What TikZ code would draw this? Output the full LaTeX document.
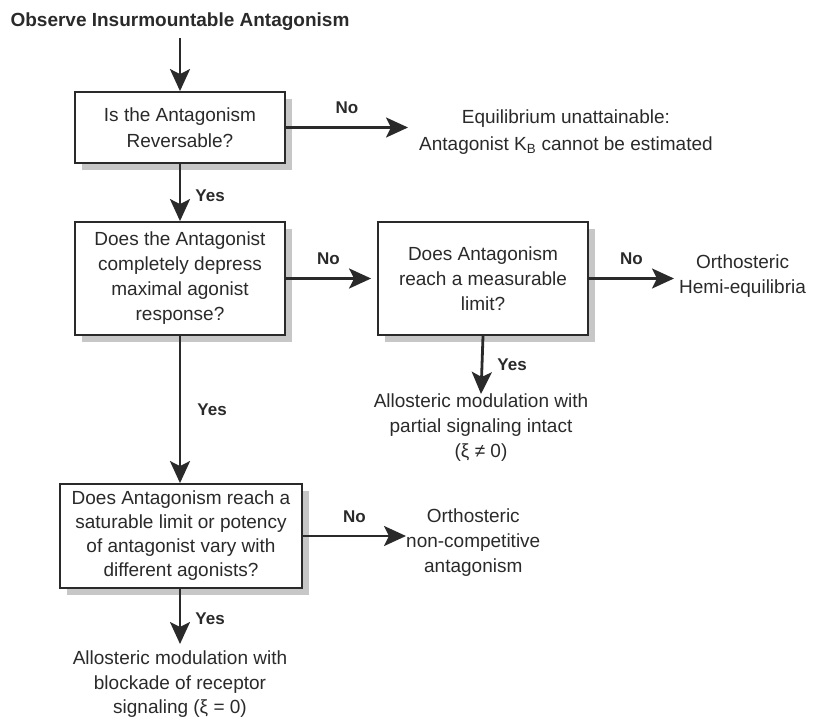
\documentclass[tikz,border=0pt]{standalone}
\usepackage{fontspec}
\setmainfont{Liberation Sans}
\usetikzlibrary{arrows.meta,shadows}
\definecolor{ink}{HTML}{2A2A2A}
\tikzset{
  box/.style={draw=ink, line width=1.8pt, fill=white, align=center, text=ink,
    font=\fontsize{19}{25}\selectfont, inner sep=0pt,
    drop shadow={shadow xshift=7pt, shadow yshift=-7pt, fill=black!22, opacity=1}},
  lbl/.style={align=center, text=ink, font=\fontsize{19}{25}\selectfont, inner sep=0pt},
  ans/.style={text=ink, font=\bfseries\fontsize{17}{20}\selectfont, inner sep=0pt},
  arr/.style={draw=ink, line width=2.8pt, -{Stealth[length=22pt,width=20pt,inset=5pt]}},
}
\begin{document}
\begin{tikzpicture}[x=1pt,y=-1pt]
\useasboundingbox (0,0) rectangle (813,719);
\node[text=ink, font=\bfseries\fontsize{19}{22}\selectfont, inner sep=0pt] (title) at (180,22) {Observe Insurmountable Antagonism};
\node[box, minimum width=210pt, minimum height=71pt, font=\fontsize{19}{26.5}\selectfont] (b1) at (180,127.5) {Is the Antagonism\\Reversable?};
\node[box, minimum width=210pt, minimum height=113pt] (b2) at (180,278.5) {Does the Antagonist\\completely depress\\maximal agonist\\response?};
\node[box, minimum width=210pt, minimum height=113pt] (b3) at (483,278.5) {Does Antagonism\\reach a measurable\\limit?};
\node[box, minimum width=242pt, minimum height=104pt, font=\fontsize{19}{24}\selectfont] (b4) at (181,536) {Does Antagonism reach a\\saturable limit or potency\\of antagonist vary with\\different agonists?};

\node[lbl, anchor=west, font=\fontsize{19}{27}\selectfont] (eq) at (419,132) {Equilibrium unattainable:\\Antagonist K$_{\mathrm{B}}$ cannot be estimated};
\node[lbl, anchor=west] (hemi) at (679,276) {Orthosteric\\Hemi-equilibria};
\node[lbl, anchor=north] (part) at (481,394) {Allosteric modulation with\\partial signaling intact\\(ξ ≠ 0)};
\node[lbl, anchor=west] (nonc) at (406,543) {Orthosteric\\non-competitive\\antagonism};
\node[lbl, anchor=north, font=\fontsize{19}{24.5}\selectfont] (block) at (180,651) {Allosteric modulation with\\blockade of receptor\\signaling (ξ = 0)};

\draw[arr] (title.south |- 0,38) -- (b1.north);
\draw[arr] (b1.east) -- ([xshift=-11pt]b1.east -| eq.west) node[ans, midway, above=12pt] (n1) {No};
\draw[arr] (b1.south) -- (b2.north) node[ans, pos=0.55, right=14pt] (y1) {Yes};
\draw[arr] (b2.east) -- ([xshift=-6pt]b2.east -| b3.west) node[ans, midway, above=12pt] (n2) {No};
\draw[arr] (b3.east) -- ([xshift=-5pt]b3.east -| hemi.west) node[ans, midway, above=12pt] (n3) {No};
\draw[arr] (b3.south) -- (part.north) node[ans, midway, right=14pt] (y3) {Yes};
\draw[arr] (b2.south) -- (b2.south |- b4.north) node[ans, midway, right=16pt] (y2) {Yes};
\draw[arr] (b4.east) -- (b4.east -| nonc.west) node[ans, midway, above=12pt] (n4) {No};
\draw[arr] (b4.south -| b2.south) -- ([yshift=7pt]block.north -| b2.south) node[ans, pos=0.55, right=14pt] (y4) {Yes};
\end{tikzpicture}
\end{document}
